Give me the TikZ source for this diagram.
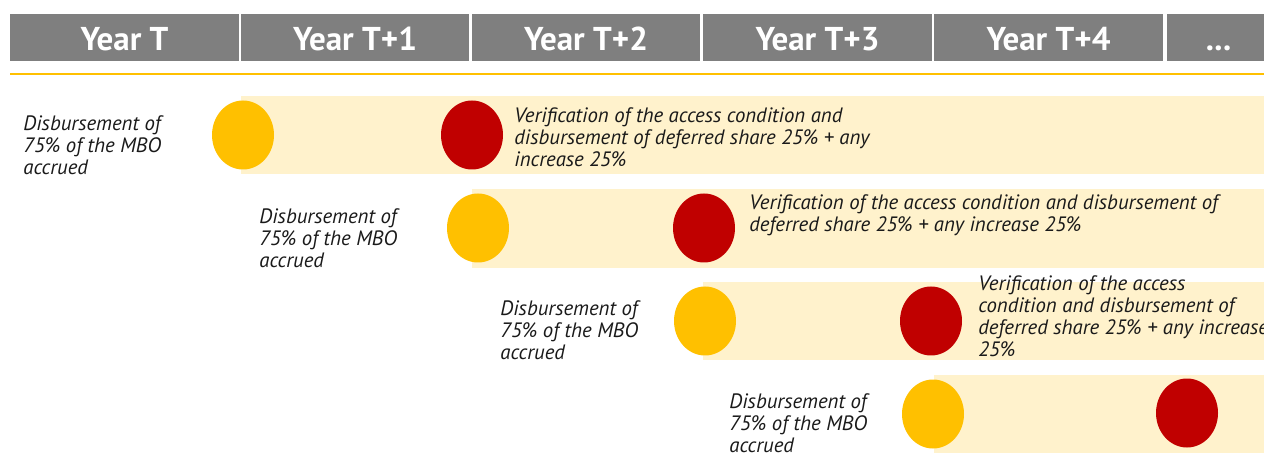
\documentclass[tikz,border=0pt]{standalone}
\usepackage{fontspec}
\setmainfont{PT Sans}
\usetikzlibrary{shapes.geometric, positioning}
\definecolor{hdrgray}{HTML}{7F7F7F}
\definecolor{amber}{HTML}{FFC000}
\definecolor{crimson}{HTML}{C00000}
\definecolor{paleband}{HTML}{FFF2CC}
\definecolor{inkblack}{HTML}{1A1A1A}
\newcommand{\moreyrs}{...}

\begin{document}
\begin{tikzpicture}[x=0.5pt, y=-0.5pt,
  yearlab/.style={text=white, font=\fontsize{16.5}{18}\selectfont\bfseries},
  dot/.style={ellipse, minimum width=31pt, minimum height=34.5pt, inner sep=0pt},
  note/.style={text=inkblack, font=\fontsize{10.4}{11}\selectfont\itshape,
    align=left, anchor=west, inner sep=0pt}]

% Canvas: 1264 x 454 units, y runs downwards
\useasboundingbox (0,0) rectangle (1264,454);

% Year header
\foreach \xl/\xr/\lab [count=\n] in {10/239/Year T, 241/469/Year T+1,
    472/700/Year T+2, 703/932/Year T+3, 934/1163/Year T+4, 1167/1270/\moreyrs} {
  \fill[hdrgray] (\xl,14) rectangle (\xr,61);
  \node[yearlab, anchor=base] (yr\n) at ({(\xl+\xr)/2},51) {\lab};
}

% Separator
\draw[amber, line width=0.75pt] (10,74) -- (1264,74);

% Bands
\fill[paleband] (241,96) rectangle (1264,174);
\fill[paleband] (472,189) rectangle (1264,268);
\fill[paleband] (703,282) rectangle (1264,360);
\fill[paleband] (934,375) rectangle (1264,453);

% Payments (yellow) and checks (red)
\node[dot, fill=amber] (pay1) at (243,135) {};
\node[dot, fill=crimson] (chk1) at (472,135) {};
\node[dot, fill=amber] (pay2) at (478,228) {};
\node[dot, fill=crimson] (chk2) at (704,228) {};
\node[dot, fill=amber] (pay3) at (705,321) {};
\node[dot, fill=crimson] (chk3) at (931,321) {};
\node[dot, fill=amber] (pay4) at (933,414) {};
\node[dot, fill=crimson] (chk4) at (1187,413) {};

% Left labels
\node[note] (acc1) at (23,145) {Disbursement of\\75\% of the MBO\\accrued};
\node[note] (acc2) at (259,238) {Disbursement of\\75\% of the MBO\\accrued};
\node[note] (acc3) at (500,330) {Disbursement of\\75\% of the MBO\\accrued};
\node[note] (acc4) at (729,423) {Disbursement of\\75\% of the MBO\\accrued};

% Verification texts
\node[note] (ver1) at (514,137) {Verification of the access condition and\\
  disbursement of deferred share 25\% + any\\increase 25\%};
\node[note] (ver2) at (749,215) {Verification of the access condition and disbursement of\\
  deferred share 25\% + any increase 25\%};
\node[note] (ver3) at (978,316) {Verification of the access\\condition and disbursement of\\
  deferred share 25\% + any increase\\25\%};

\end{tikzpicture}
\end{document}
